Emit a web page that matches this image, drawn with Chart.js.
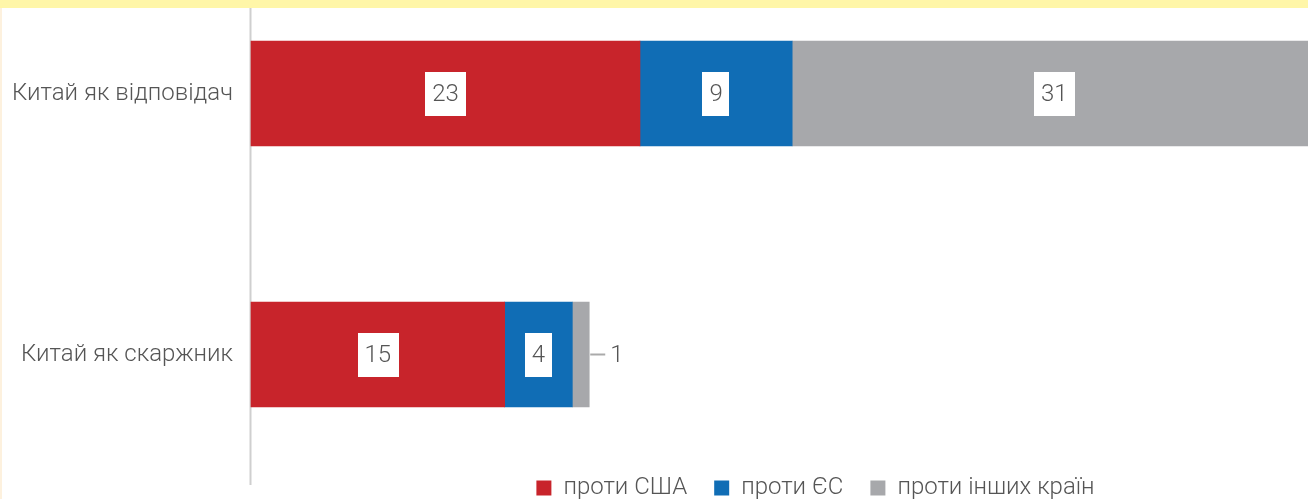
<!DOCTYPE html>
<html>
<head>
<meta charset="utf-8">
<script src="https://cdn.jsdelivr.net/npm/chart.js@4/dist/chart.umd.min.js"></script>
<style>
    html, body { margin: 0; padding: 0; background: #fff; overflow: hidden; width: 1308px; height: 499px; }
    #band { position: absolute; left: 0; top: 0; width: 1308px; height: 8px; background: #fff6a8; }
    #edge { position: absolute; left: 0; top: 8px; width: 2px; height: 491px; background: #fdf1de; }
    #wrap { position: absolute; left: 2px; top: 8px; width: 1306px; height: 502px; }
</style>
</head>
<body>
<div id="band"></div>
<div id="edge"></div>
<div id="wrap"><canvas id="chart"></canvas></div>
<script>
// Data
const categories = ['Китай як відповідач', 'Китай як скаржник'];
const seriesNames = ['проти США', 'проти ЄС', 'проти інших країн'];
const vsUSA = [23, 15];
const vsEU = [9, 4];
const vsOthers = [31, 1];

const colors = ['#c8242b', '#106db5', '#a7a8ab'];
const FONT = 'Roboto';
const TEXT = '#555';

// vertical axis line, longer than the chart area
const axisLine = {
    id: 'axisLine',
    beforeDatasetsDraw(chart) {
        const ctx = chart.ctx;
        const x = chart.chartArea.left - 0.5;
        ctx.save();
        ctx.strokeStyle = '#cfcfcf';
        ctx.lineWidth = 2;
        ctx.beginPath();
        ctx.moveTo(x, 0);
        ctx.lineTo(x, chart.legend.top + 36);
        ctx.stroke();
        ctx.restore();
    }
};

// value labels in white boxes, or outside with a leader line when the bar is too thin
const valueLabels = {
    id: 'valueLabels',
    afterDatasetsDraw(chart) {
        const ctx = chart.ctx;
        ctx.save();
        ctx.font = '300 24px ' + FONT;
        ctx.textBaseline = 'middle';
        chart.data.datasets.forEach(function (ds, i) {
            const meta = chart.getDatasetMeta(i);
            meta.data.forEach(function (bar, j) {
                const txt = String(ds.data[j]);
                const w = ctx.measureText(txt).width;
                const boxW = w + 14;
                const len = bar.x - bar.base;
                if (len >= boxW + 4) {
                    const cx = (bar.x + bar.base) / 2;
                    ctx.fillStyle = '#fff';
                    ctx.fillRect(Math.round(cx - boxW / 2), Math.round(bar.y - 22), Math.round(boxW), 44);
                    ctx.fillStyle = TEXT;
                    ctx.textAlign = 'center';
                    ctx.fillText(txt, cx, bar.y + 1);
                } else {
                    ctx.strokeStyle = '#aaa';
                    ctx.lineWidth = 2;
                    ctx.beginPath();
                    ctx.moveTo(bar.x + 1, bar.y);
                    ctx.lineTo(bar.x + 16, bar.y);
                    ctx.stroke();
                    ctx.fillStyle = TEXT;
                    ctx.textAlign = 'left';
                    ctx.fillText(txt, bar.x + 21, bar.y + 1);
                }
            });
        });
        ctx.restore();
    }
};

// move the legend to the right, as in the original
const legendShift = {
    id: 'legendShift',
    afterLayout(chart) {
        chart.legend.left += 72;
    }
};

const chart = new Chart(document.getElementById('chart'), {
    type: 'bar',
    data: {
        labels: categories,
        datasets: [
            { label: seriesNames[0], data: vsUSA, backgroundColor: colors[0] },
            { label: seriesNames[1], data: vsEU, backgroundColor: colors[1] },
            { label: seriesNames[2], data: vsOthers, backgroundColor: colors[2] }
        ]
    },
    options: {
        indexAxis: 'y',
        responsive: true,
        maintainAspectRatio: false,
        animation: false,
        datasets: {
            bar: { barThickness: 105, borderWidth: 0, clip: false }
        },
        layout: { padding: { top: 85.5, left: 0, right: 0, bottom: 0 } },
        scales: {
            x: {
                stacked: true,
                min: 0,
                max: 62.5,
                grid: { display: false, drawTicks: false },
                border: { display: false },
                ticks: { display: false },
                afterFit: function (scale) { scale.height = 94.5; }
            },
            y: {
                stacked: true,
                offset: false,
                grid: { display: false, drawTicks: false },
                border: { display: false },
                ticks: {
                    padding: 18,
                    color: TEXT,
                    font: { family: FONT, size: 24, weight: '300' }
                },
                afterFit: function (scale) { scale.width = 249; }
            }
        },
        plugins: {
            tooltip: { enabled: false },
            legend: {
                position: 'bottom',
                fullSize: false,
                labels: {
                    boxWidth: 15,
                    boxHeight: 15,
                    padding: 27,
                    color: TEXT,
                    font: { family: FONT, size: 24, weight: '300' }
                }
            }
        }
    },
    plugins: [axisLine, valueLabels, legendShift]
});
</script>
</body>
</html>
